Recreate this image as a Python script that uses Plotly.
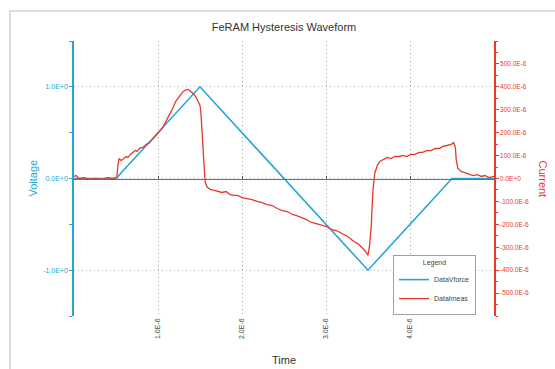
import plotly.graph_objects as go

# Applied voltage waveform (triangle), time in microseconds, volts
volt_time_us = [0.0, 0.5, 1.5, 3.5, 4.5, 5.0]
volt_values = [0.0, 0.0, 1.0, -1.0, 0.0, 0.0]

# Measured current, time in microseconds, current in microamps
curr_time_us = [
    0.00, 0.024, 0.06, 0.12, 0.19, 0.26, 0.33, 0.40, 0.46, 0.51,
    0.524, 0.536, 0.56, 0.58, 0.62, 0.64, 0.67, 0.70, 0.73, 0.75,
    0.79, 0.82, 0.86, 0.89, 0.93, 0.96, 1.00, 1.04, 1.07, 1.11,
    1.14, 1.18, 1.21, 1.25, 1.29, 1.32, 1.36, 1.39, 1.43, 1.46,
    1.50, 1.51, 1.52, 1.54, 1.55, 1.56, 1.58, 1.62, 1.67, 1.71,
    1.76, 1.81, 1.86, 1.90, 1.95, 2.00, 2.06, 2.12, 2.18, 2.24,
    2.30, 2.36, 2.42, 2.48, 2.54, 2.60, 2.65, 2.71, 2.77, 2.83,
    2.89, 2.95, 3.01, 3.07, 3.13, 3.19, 3.24, 3.29, 3.33, 3.38,
    3.42, 3.45, 3.48, 3.50, 3.52, 3.54, 3.55, 3.56, 3.58, 3.61,
    3.64, 3.68, 3.73, 3.77, 3.82, 3.87, 3.92, 3.96, 4.01, 4.06,
    4.11, 4.15, 4.20, 4.25, 4.30, 4.35, 4.39, 4.44, 4.49, 4.52,
    4.54, 4.55, 4.57, 4.61, 4.65, 4.70, 4.75, 4.80, 4.85, 4.89,
    4.94, 5.00,
]
curr_values_ua = [
    9, 13, 0, 4, -4, 0, -4, 4, 0, 4,
    61, 87, 79, 83, 96, 92, 105, 114, 122, 118,
    135, 135, 149, 153, 170, 179, 197, 214, 232, 258,
    280, 310, 336, 358, 376, 385, 389, 380, 367, 350,
    319, 293, 236, 127, 39, -13, -35, -48, -52, -57,
    -61, -57, -70, -74, -74, -83, -87, -92, -100, -105,
    -114, -118, -131, -140, -144, -157, -162, -170, -179, -192,
    -197, -205, -210, -223, -228, -240, -249, -262, -275, -284,
    -297, -310, -323, -336, -288, -201, -114, -48, 22, 57,
    74, 83, 92, 87, 96, 96, 101, 96, 105, 105,
    114, 114, 122, 122, 131, 131, 140, 144, 149, 157,
    135, 83, 44, 31, 26, 17, 13, 17, 9, 13,
    4, 9,
]

# Axis tick labels
time_ticks_us = [1, 2, 3, 4]
time_tick_text = ["1.0E-6", "2.0E-6", "3.0E-6", "4.0E-6"]
volt_ticks = [-1, 0, 1]
volt_tick_text = ["-1.0E+0", "0.0E+0", "1.0E+0"]
curr_ticks_ua = [-500, -400, -300, -200, -100, 0, 100, 200, 300, 400, 500]
curr_tick_text = ["-500.0E-6", "-400.0E-6", "-300.0E-6", "-200.0E-6", "-100.0E-6",
                  "0.0E+0", "100.0E-6", "200.0E-6", "300.0E-6", "400.0E-6", "500.0E-6"]

BLUE = "#27a6d4"
RED = "#e5392b"
FONT = "Liberation Sans, Arial, sans-serif"

fig = go.Figure()
fig.add_trace(go.Scatter(
    x=[t * 1e-6 for t in volt_time_us], y=volt_values,
    name="DataVforce", mode="lines",
    line=dict(color=BLUE, width=1.6),
    xaxis="x", yaxis="y",
))
fig.add_trace(go.Scatter(
    x=[t * 1e-6 for t in curr_time_us], y=[c * 1e-6 for c in curr_values_ua],
    name="DataImeas", mode="lines",
    line=dict(color=RED, width=1.3),
    xaxis="x2", yaxis="y2",
))

x_range = [0, 5e-6]

fig.update_layout(
    width=555, height=369,
    margin=dict(l=74, r=61, t=41, b=53),
    paper_bgcolor="white", plot_bgcolor="white",
    font=dict(family=FONT, size=7, color="#444"),
    title=dict(text="FeRAM Hysteresis Waveform", x=0.5, xref="paper",
               y=1 - 27 / 369, yref="container", yanchor="middle",
               font=dict(size=11, color="#333")),
    xaxis=dict(
        range=x_range, tickvals=[t * 1e-6 for t in time_ticks_us], ticktext=time_tick_text,
        tickangle=-90, showgrid=True, gridcolor="#a8a8a8", griddash="1px,3px", gridwidth=1,
        showline=False, zeroline=False, ticks="", tickfont=dict(size=7, color="#444"),
    ),
    xaxis2=dict(
        range=x_range, overlaying="x", anchor="free", position=0.5,
        tickvals=[t * 1e-6 for t in time_ticks_us], showticklabels=False,
        showline=True, linecolor="#6e6e6e", linewidth=1,
        ticks="inside", ticklen=3, tickcolor="#555", showgrid=False, zeroline=False,
    ),
    yaxis=dict(
        range=[-1.5, 1.5], tickvals=volt_ticks, ticktext=volt_tick_text,
        showline=True, linecolor=BLUE, linewidth=1.5,
        ticks="outside", ticklen=3, tickcolor=BLUE,
        minor=dict(dtick=0.5, tick0=0, ticks="outside", ticklen=3, tickcolor=BLUE, showgrid=False),
        showgrid=True, gridcolor="#a9bcc6", griddash="1px,3px", gridwidth=1,
        zeroline=False, tickfont=dict(size=7, color=BLUE),
    ),
    yaxis2=dict(
        range=[-600e-6, 600e-6], overlaying="y", side="right", anchor="x2",
        tickvals=[c * 1e-6 for c in curr_ticks_ua], ticktext=curr_tick_text,
        showline=True, linecolor=RED, linewidth=1.5,
        ticks="outside", ticklen=3, tickcolor=RED,
        minor=dict(dtick=50e-6, tick0=0, ticks="outside", ticklen=2, tickcolor=RED, showgrid=False),
        showgrid=False, zeroline=False, tickfont=dict(size=6.5, color=RED),
    ),
    legend=dict(
        x=(393 - 74) / 420, y=(316 - 255) / 275, xanchor="left", yanchor="top",
        bgcolor="white", bordercolor="#a0a0a0", borderwidth=1,
        font=dict(size=7, color="#444"),
        title=dict(text="Legend", side="top center", font=dict(size=7, color="#444")),
        tracegroupgap=0, itemwidth=30,
    ),
    showlegend=True,
)

# Axis titles
fig.add_annotation(text="Voltage", x=(32 - 74) / 420, y=0.5, xref="paper", yref="paper",
                   xanchor="center", yanchor="middle",
                   textangle=-90, showarrow=False, font=dict(size=11, color=BLUE))
fig.add_annotation(text="Current", x=(543 - 74) / 420, y=0.5, xref="paper", yref="paper",
                   xanchor="center", yanchor="middle",
                   textangle=90, showarrow=False, font=dict(size=11, color=RED))
fig.add_annotation(text="Time", x=0.5, y=(316 - 360) / 275, xref="paper", yref="paper",
                   xanchor="center", yanchor="middle",
                   showarrow=False, font=dict(size=11, color="#333"))

# Light outer frame around the chart
fig.add_shape(type="rect", xref="paper", yref="paper",
              x0=(10 - 74) / 420, x1=(575 - 74) / 420,
              y0=(316 - 385) / 275, y1=(316 - 11) / 275,
              line=dict(color="#dddddd", width=2), fillcolor="rgba(0,0,0,0)", layer="below")

fig.write_html("out.html")
